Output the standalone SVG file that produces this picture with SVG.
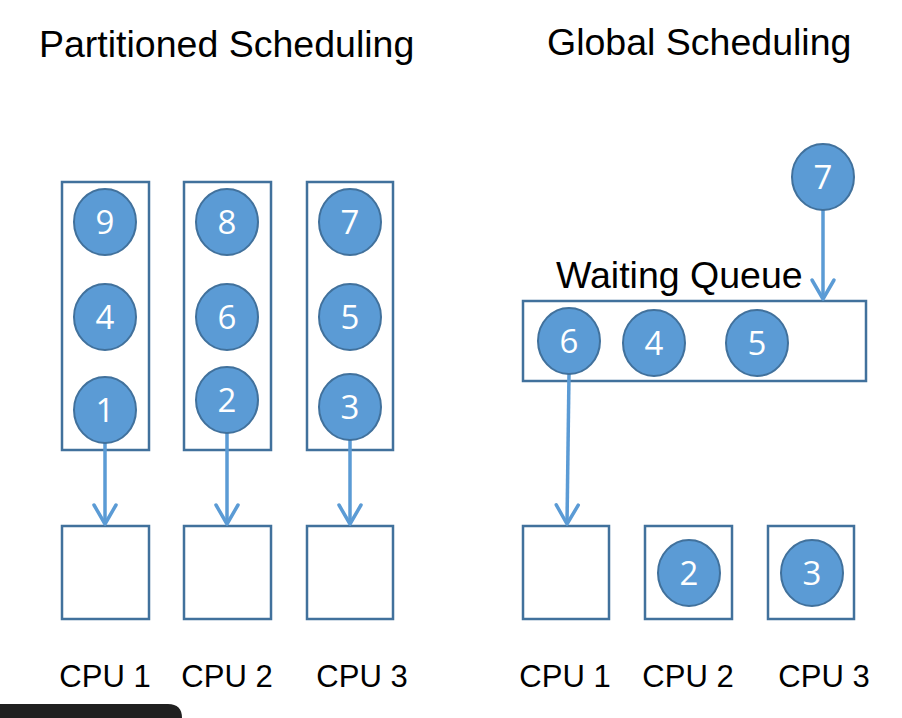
<svg xmlns="http://www.w3.org/2000/svg" width="902" height="718" viewBox="0 0 902 718">
<style>
.box{fill:#fff;stroke:#41719C;stroke-width:2.5}
.job ellipse{fill:#5B9BD5;stroke:#41719C;stroke-width:2}
.job text{fill:#fff;font-family:"Open Sans","Liberation Sans",sans-serif;font-size:33px;text-anchor:middle}
.title{font-family:"Liberation Sans",Arial,sans-serif;font-size:37.5px;fill:#000}
.cpu{font-family:"Liberation Sans",Arial,sans-serif;font-size:31px;fill:#000;text-anchor:middle}
.conn{stroke:#5B9BD5;stroke-width:3.5;fill:none;marker-end:url(#arr)}
</style>
<defs>
<marker id="arr" markerUnits="userSpaceOnUse" markerWidth="30" markerHeight="30" refX="0" refY="0" orient="auto" overflow="visible">
<path d="M -19 -11 L 0 0 L -19 11" fill="none" stroke="#5B9BD5" stroke-width="3.5" stroke-linecap="round" stroke-linejoin="round"/>
</marker>
</defs>
<rect width="902" height="718" fill="#fff"/>
<text class="title" x="39" y="57">Partitioned Scheduling</text>
<text class="title" x="547" y="55">Global Scheduling</text>

<g id="partitioned-queues">
<rect id="pq1" class="box" x="62" y="182" width="87" height="268"/>
<rect id="pq2" class="box" x="184" y="182" width="87" height="268"/>
<rect id="pq3" class="box" x="307" y="182" width="86" height="268"/>
</g>

<g id="partitioned-cpus">
<g id="p-cpu1"><rect class="box" x="62" y="526" width="87" height="93"/><text class="cpu" x="105" y="687">CPU 1</text></g>
<g id="p-cpu2"><rect class="box" x="184" y="526" width="87" height="93"/><text class="cpu" x="227" y="687">CPU 2</text></g>
<g id="p-cpu3"><rect class="box" x="307" y="526" width="86" height="93"/><text class="cpu" x="362" y="687">CPU 3</text></g>
</g>

<g id="global-queue">
<rect class="box" x="523" y="301" width="343" height="80"/>
<text class="title" x="556" y="288">Waiting Queue</text>
</g>

<g id="global-cpus">
<g id="g-cpu1"><rect class="box" x="523" y="526" width="86" height="93"/><text class="cpu" x="565" y="687">CPU 1</text></g>
<g id="g-cpu2"><rect class="box" x="645" y="526" width="87" height="93"/><text class="cpu" x="688" y="687">CPU 2</text></g>
<g id="g-cpu3"><rect class="box" x="768" y="526" width="86" height="93"/><text class="cpu" x="824" y="687">CPU 3</text></g>
</g>

<g id="connectors">
<path class="conn" d="M105 443 L105 524"/>
<path class="conn" d="M227 433 L227 524"/>
<path class="conn" d="M350 440 L350 524"/>
<path class="conn" d="M823 210 L823 299"/>
<path class="conn" d="M569 374 L567 524"/>
</g>

<g id="jobs">
<g id="p9" class="job"><ellipse cx="105" cy="222" rx="31" ry="33"/><text x="105" y="234">9</text></g>
<g id="p4" class="job"><ellipse cx="105" cy="317" rx="31" ry="33"/><text x="105" y="329">4</text></g>
<g id="p1" class="job"><ellipse cx="105" cy="410" rx="31" ry="33"/><text x="105" y="422">1</text></g>
<g id="p8" class="job"><ellipse cx="227" cy="222" rx="31" ry="33"/><text x="227" y="234">8</text></g>
<g id="p6" class="job"><ellipse cx="227" cy="317" rx="31" ry="33"/><text x="227" y="329">6</text></g>
<g id="p2" class="job"><ellipse cx="227" cy="400" rx="31" ry="33"/><text x="227" y="412">2</text></g>
<g id="p7" class="job"><ellipse cx="350" cy="222" rx="31" ry="33"/><text x="350" y="234">7</text></g>
<g id="p5" class="job"><ellipse cx="350" cy="317" rx="31" ry="33"/><text x="350" y="329">5</text></g>
<g id="p3" class="job"><ellipse cx="350" cy="407" rx="31" ry="33"/><text x="350" y="419">3</text></g>
<g id="g7" class="job"><ellipse cx="823" cy="177" rx="31" ry="33"/><text x="823" y="189">7</text></g>
<g id="g6" class="job"><ellipse cx="569" cy="341" rx="31" ry="33"/><text x="569" y="353">6</text></g>
<g id="g4" class="job"><ellipse cx="654" cy="343" rx="31" ry="33"/><text x="654" y="355">4</text></g>
<g id="g5" class="job"><ellipse cx="757" cy="343" rx="31" ry="33"/><text x="757" y="355">5</text></g>
<g id="g2" class="job"><ellipse cx="689" cy="573" rx="31" ry="33"/><text x="689" y="585">2</text></g>
<g id="g3" class="job"><ellipse cx="812" cy="573" rx="31" ry="33"/><text x="812" y="585">3</text></g>
</g>

<path d="M0 704 L168 704 Q182 704 182 718 L0 718 Z" fill="#202020"/>
</svg>
